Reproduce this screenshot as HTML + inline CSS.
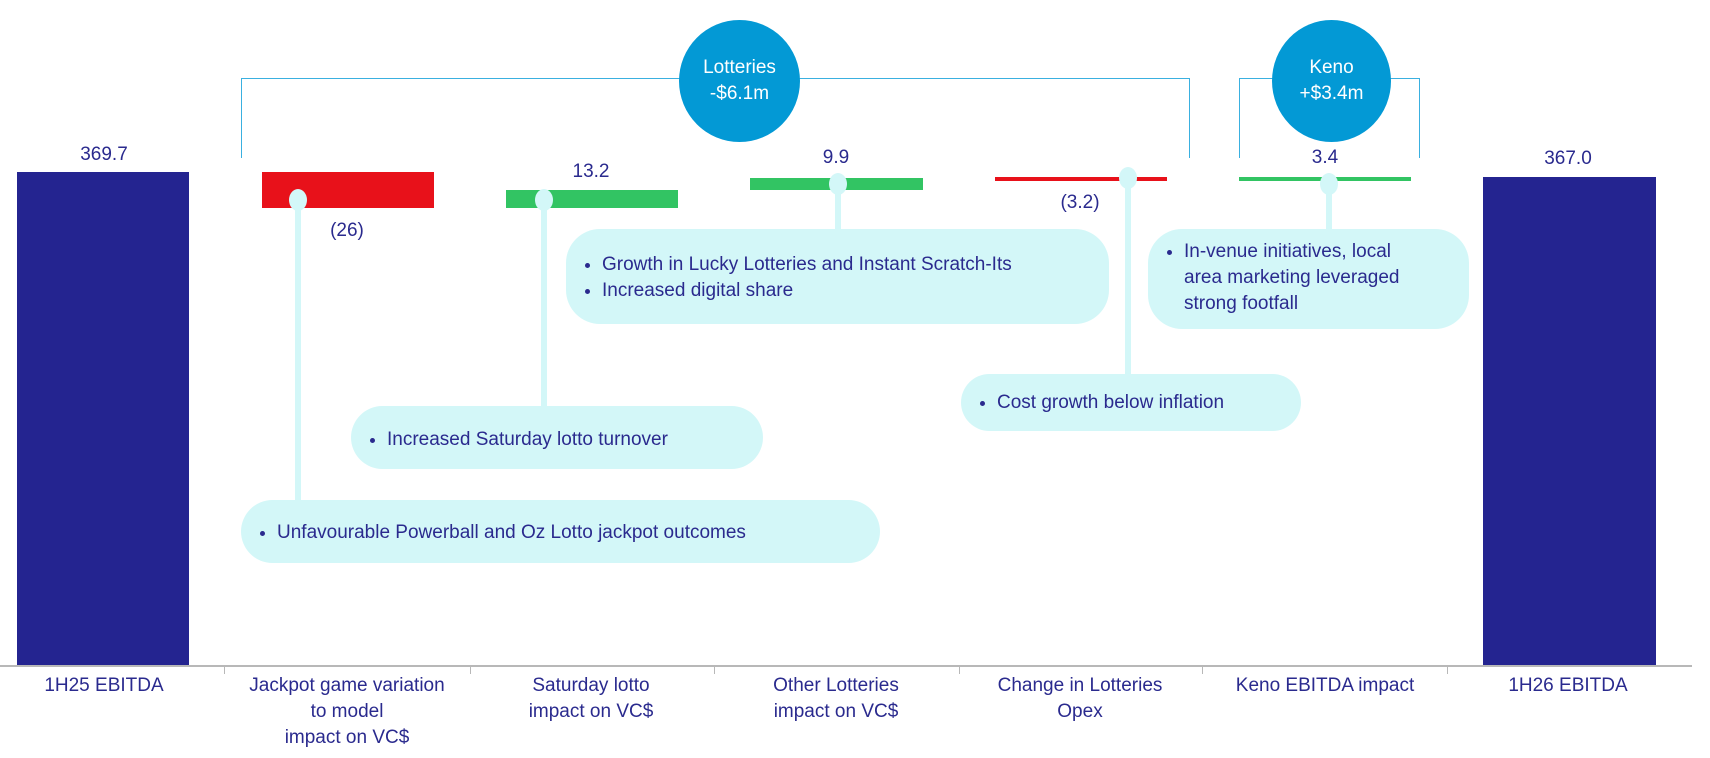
<!DOCTYPE html>
<html><head><meta charset="utf-8"><style>
body{margin:0;width:1710px;height:758px;background:#fff;position:relative;overflow:hidden;font-family:"Liberation Sans",sans-serif;color:#2a2a8e}
div{position:absolute;box-sizing:border-box}
.t{font-size:19px;white-space:nowrap;text-align:center;line-height:26px}
.box{background:#d3f7f8;border-radius:34px;font-size:19px;line-height:26px;color:#2a2a8e}
.box ul{margin:0;padding:0 0 0 36px}
.ln{background:#d3f7f8;width:6px}
.dot{background:#d3f7f8;width:18px;height:22px;border-radius:50%}
.br{border:1.5px solid #3ab0e0;border-bottom:none}
.circ{background:#0399d5;border-radius:50%;color:#fff;font-size:19px;line-height:26px;text-align:center;display:flex;align-items:center;justify-content:center}
</style></head><body>
<div class="br" style="left:241px;top:78px;width:949px;height:80px"></div>
<div class="br" style="left:1239px;top:78px;width:181px;height:80px"></div>
<div class="circ" style="left:679px;top:20px;width:121px;height:122px">Lotteries<br>-$6.1m</div>
<div class="circ" style="left:1272px;top:20px;width:119px;height:122px">Keno<br>+$3.4m</div>
<div style="left:17px;top:172px;width:172px;height:493px;background:#242490"></div>
<div style="left:1483px;top:177px;width:173px;height:488px;background:#242490"></div>
<div style="left:262px;top:172px;width:172px;height:36px;background:#e8111a"></div>
<div style="left:506px;top:190px;width:172px;height:18px;background:#32c463"></div>
<div style="left:750px;top:178px;width:173px;height:12px;background:#32c463"></div>
<div style="left:995px;top:177px;width:172px;height:4px;background:#e8111a"></div>
<div style="left:1239px;top:177px;width:172px;height:4px;background:#32c463"></div>
<div style="left:0;top:665px;width:1692px;height:1.5px;background:#b8b8b8"></div>
<div style="left:224px;top:665px;width:1px;height:9px;background:#b8b8b8"></div>
<div style="left:470px;top:665px;width:1px;height:9px;background:#b8b8b8"></div>
<div style="left:714px;top:665px;width:1px;height:9px;background:#b8b8b8"></div>
<div style="left:959px;top:665px;width:1px;height:9px;background:#b8b8b8"></div>
<div style="left:1202px;top:665px;width:1px;height:9px;background:#b8b8b8"></div>
<div style="left:1447px;top:665px;width:1px;height:9px;background:#b8b8b8"></div>
<div class="t" style="left:54px;top:142px;width:100px">369.7</div>
<div class="t" style="left:1518px;top:146px;width:100px">367.0</div>
<div class="t" style="left:297px;top:218px;width:100px">(26)</div>
<div class="t" style="left:541px;top:159px;width:100px">13.2</div>
<div class="t" style="left:786px;top:145px;width:100px">9.9</div>
<div class="t" style="left:1030px;top:190px;width:100px">(3.2)</div>
<div class="t" style="left:1275px;top:145px;width:100px">3.4</div>
<div class="ln" style="left:295px;top:200px;height:300px"></div>
<div class="ln" style="left:541px;top:200px;height:206px"></div>
<div class="ln" style="left:835px;top:184px;height:45px"></div>
<div class="ln" style="left:1125px;top:178px;height:196px"></div>
<div class="ln" style="left:1326px;top:184px;height:45px"></div>
<div class="dot" style="left:289px;top:189px"></div>
<div class="dot" style="left:535px;top:189px"></div>
<div class="dot" style="left:829px;top:173px"></div>
<div class="dot" style="left:1119px;top:167px"></div>
<div class="dot" style="left:1320px;top:173px"></div>
<div class="box" style="left:241px;top:500px;width:639px;height:63px;padding-top:20px"><ul><li>Unfavourable Powerball and Oz Lotto jackpot outcomes</li></ul></div>
<div class="box" style="left:351px;top:406px;width:412px;height:63px;padding-top:21px"><ul><li>Increased Saturday lotto turnover</li></ul></div>
<div class="box" style="left:566px;top:229px;width:543px;height:95px;padding-top:23px"><ul><li>Growth in Lucky Lotteries and Instant Scratch-Its</li><li>Increased digital share</li></ul></div>
<div class="box" style="left:961px;top:374px;width:340px;height:57px;padding-top:16px"><ul><li>Cost growth below inflation</li></ul></div>
<div class="box" style="left:1148px;top:229px;width:321px;height:100px;padding-top:10px"><ul><li>In-venue initiatives, local<br>area marketing leveraged<br>strong footfall</li></ul></div>
<div class="t" style="left:4px;top:673px;width:200px">1H25 EBITDA</div>
<div class="t" style="left:227px;top:673px;width:240px">Jackpot game variation<br>to model<br>impact on VC$</div>
<div class="t" style="left:491px;top:673px;width:200px">Saturday lotto<br>impact on VC$</div>
<div class="t" style="left:736px;top:673px;width:200px">Other Lotteries<br>impact on VC$</div>
<div class="t" style="left:980px;top:673px;width:200px">Change in Lotteries<br>Opex</div>
<div class="t" style="left:1215px;top:673px;width:220px">Keno EBITDA impact</div>
<div class="t" style="left:1468px;top:673px;width:200px">1H26 EBITDA</div>
</body></html>
